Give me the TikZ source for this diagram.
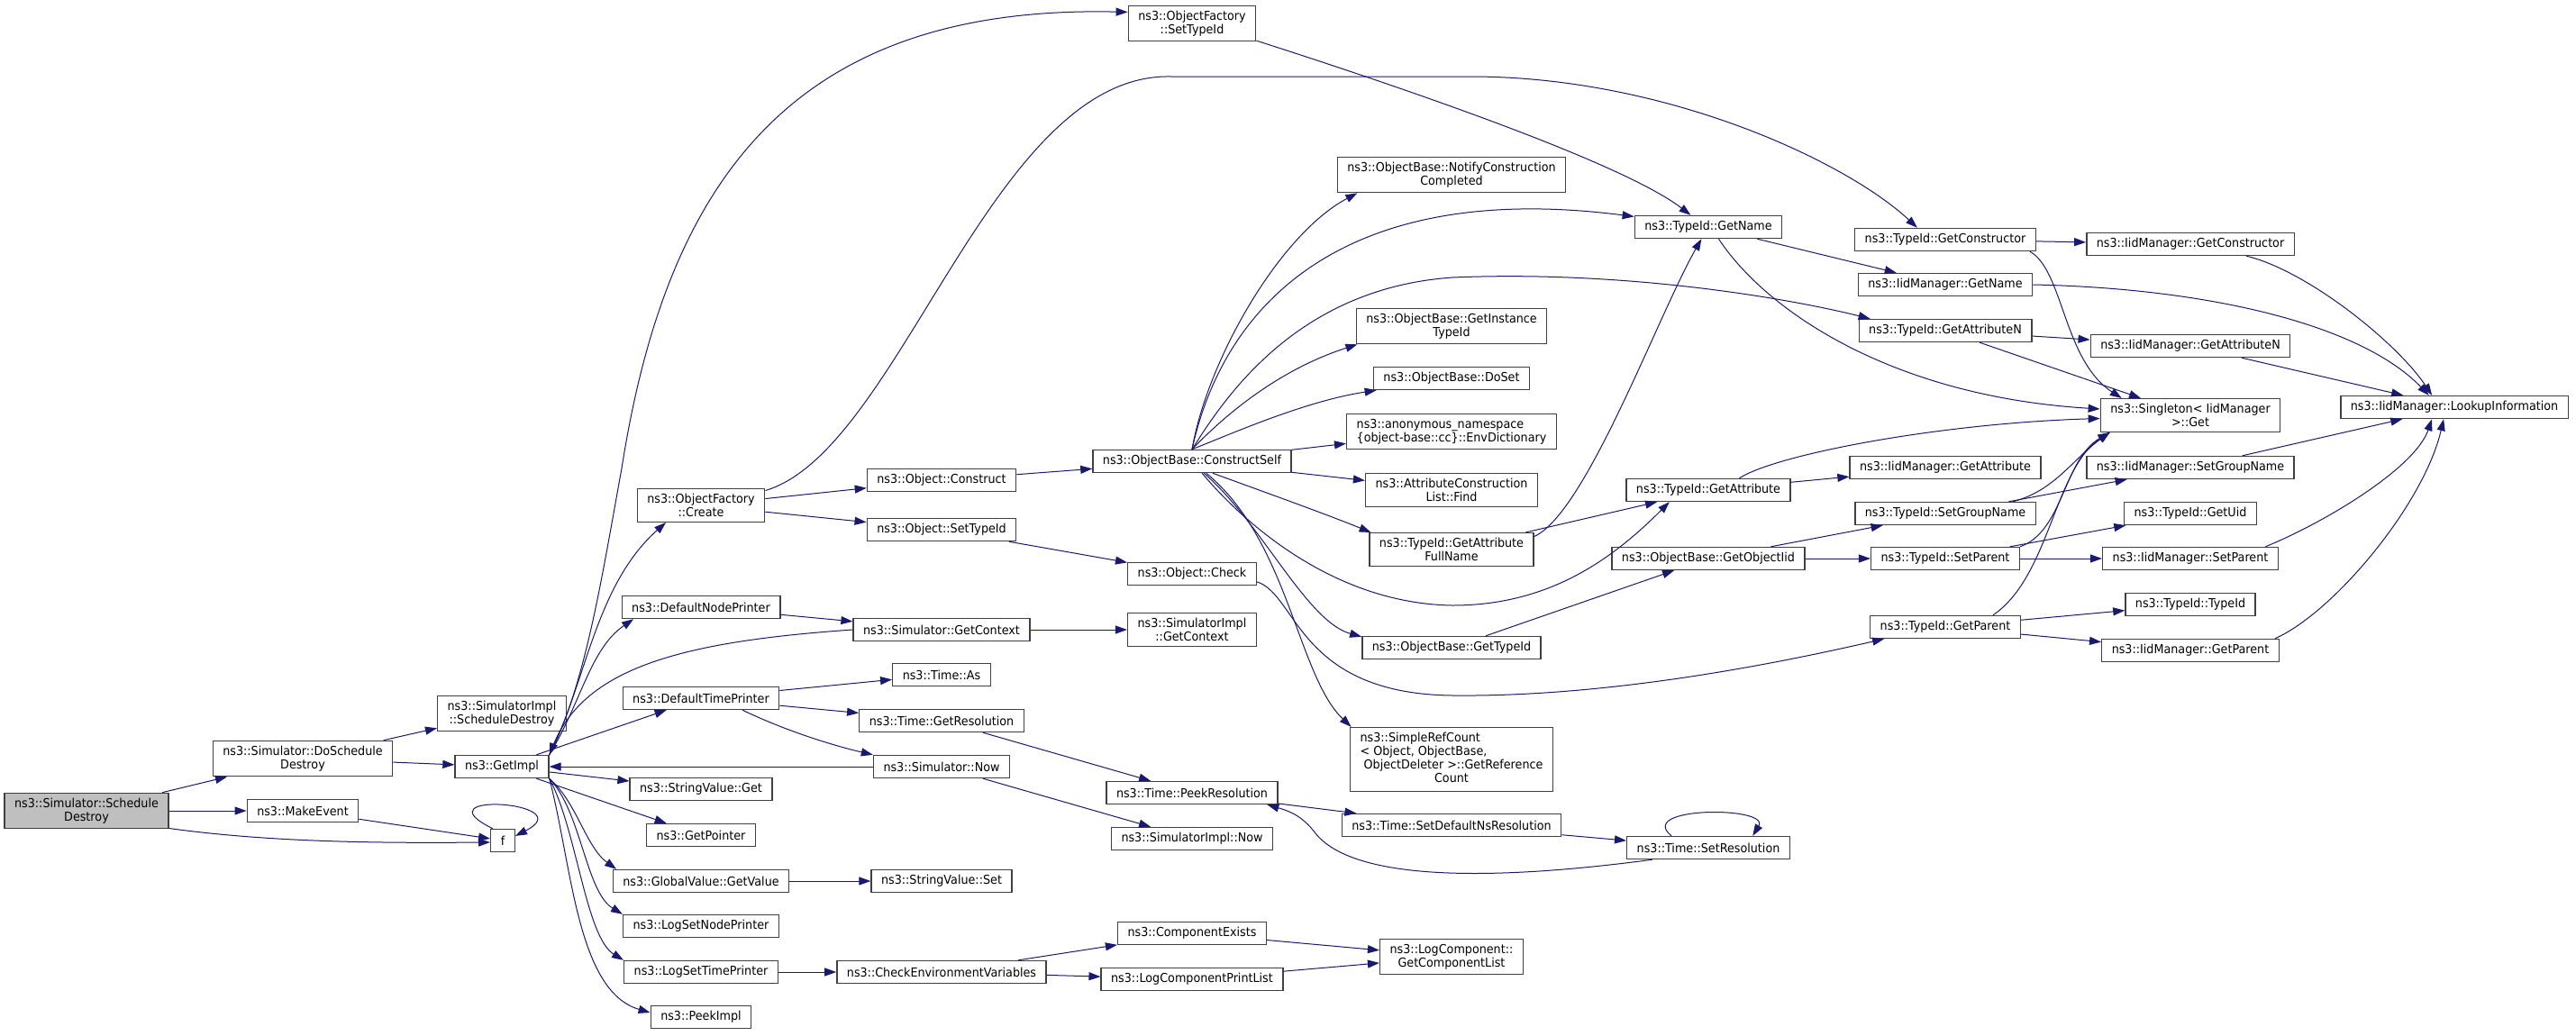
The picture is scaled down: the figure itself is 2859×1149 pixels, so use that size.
\documentclass[tikz,border=0pt]{standalone}
\usepackage{fontspec}
\setmainfont{DejaVu Sans}[FakeStretch=0.93]
\usetikzlibrary{arrows.meta}

\definecolor{edgeblue}{HTML}{191970}
\definecolor{boxline}{HTML}{404040}
\definecolor{rootfill}{HTML}{BFBFBF}

\tikzset{
	fn/.style={draw=boxline, fill=white, line width=1.4pt, inner xsep=11pt, inner ysep=5.5pt,
		minimum height=25pt, align=center, font=\fontsize{13.7}{15}\selectfont},
	call/.style={draw=edgeblue, line width=1pt, -{Triangle[length=13pt,width=9pt]}}
}

\begin{document}
\begin{tikzpicture}[x=1pt, y=-1pt]
	
	\fill[white] (0,0) rectangle (2859,1149);
	\useasboundingbox (0,0) rectangle (2859,1149);
	
	\node[fn, fill=rootfill] (root) at (96,900) {ns3::Simulator::Schedule\\Destroy};
	\node[fn] (dosched) at (336,842) {ns3::Simulator::DoSchedule\\Destroy};
	\node[fn] (makeevent) at (336,900) {ns3::MakeEvent};
	\node[fn] (simimplsd) at (557,792) {ns3::SimulatorImpl\\::ScheduleDestroy};
	\node[fn] (getimpl) at (557,851) {ns3::GetImpl};
	\node[fn] (f) at (558,933) {f};
	
	\node[fn] (ofcreate) at (778,561) {ns3::ObjectFactory\\::Create};
	\node[fn] (defnodeprinter) at (778,674) {ns3::DefaultNodePrinter};
	\node[fn] (deftimeprinter) at (778,775) {ns3::DefaultTimePrinter};
	\node[fn] (strget) at (778,876) {ns3::StringValue::Get};
	\node[fn] (getpointer) at (778,927) {ns3::GetPointer};
	\node[fn] (gvgetvalue) at (778,978) {ns3::GlobalValue::GetValue};
	\node[fn] (logsetnode) at (778,1028) {ns3::LogSetNodePrinter};
	\node[fn] (logsettime) at (778,1079) {ns3::LogSetTimePrinter};
	\node[fn] (peekimpl) at (778,1129) {ns3::PeekImpl};
	
	\node[fn] (objconstruct) at (1045,533) {ns3::Object::Construct};
	\node[fn] (objsettypeid) at (1045,588) {ns3::Object::SetTypeId};
	\node[fn] (simgetcontext) at (1045,699) {ns3::Simulator::GetContext};
	\node[fn] (timeas) at (1045,749) {ns3::Time::As};
	\node[fn] (timegetres) at (1045,800) {ns3::Time::GetResolution};
	\node[fn] (simnow) at (1045,851) {ns3::Simulator::Now};
	\node[fn] (strset) at (1045,978) {ns3::StringValue::Set};
	\node[fn] (checkenv) at (1045,1079) {ns3::CheckEnvironmentVariables};
	
	\node[fn] (ofsettypeid) at (1323,26) {ns3::ObjectFactory\\::SetTypeId};
	\node[fn] (constructself) at (1323,512) {ns3::ObjectBase::ConstructSelf};
	\node[fn] (objcheck) at (1323,637) {ns3::Object::Check};
	\node[fn] (simimplgetcontext) at (1323,699) {ns3::SimulatorImpl\\::GetContext};
	\node[fn] (peekres) at (1323,880) {ns3::Time::PeekResolution};
	\node[fn] (simimplnow) at (1323,931) {ns3::SimulatorImpl::Now};
	\node[fn] (compexists) at (1323,1036) {ns3::ComponentExists};
	\node[fn] (logprintlist) at (1323,1087) {ns3::LogComponentPrintList};
	
	\node[fn] (notifycc) at (1611,194) {ns3::ObjectBase::NotifyConstruction\\Completed};
	\node[fn] (getinsttid) at (1611,362) {ns3::ObjectBase::GetInstance\\TypeId};
	\node[fn] (doset) at (1611,420) {ns3::ObjectBase::DoSet};
	\node[fn, align=left] (envdict) at (1611,479) {ns3::anonymous\_namespace\\\{object-base::cc\}::EnvDictionary};
	\node[fn] (acfind) at (1611,544) {ns3::AttributeConstruction\\List::Find};
	\node[fn] (fullname) at (1611,610) {ns3::TypeId::GetAttribute\\FullName};
	\node[fn] (obgettid) at (1611,719) {ns3::ObjectBase::GetTypeId};
	\node[fn] (simpleref) at (1611,843) {\begin{tabular}{@{}l@{}}ns3::SimpleRefCount\\< Object, ObjectBase,\\\ ObjectDeleter >::GetReference\\\multicolumn{1}{@{}c@{}}{Count}\end{tabular}};
	\node[fn] (setdefns) at (1611,916) {ns3::Time::SetDefaultNsResolution};
	\node[fn] (getcomplist) at (1611,1062) {ns3::LogComponent::\\GetComponentList};
	
	\node[fn] (tidgetname) at (1896,252) {ns3::TypeId::GetName};
	\node[fn] (tidgetattr) at (1896,544) {ns3::TypeId::GetAttribute};
	\node[fn] (getobjiid) at (1896,620) {ns3::ObjectBase::GetObjectIid};
	\node[fn] (setres) at (1896,941) {ns3::Time::SetResolution};
	
	\node[fn] (tidgetctor) at (2159,266) {ns3::TypeId::GetConstructor};
	\node[fn] (iidgetname) at (2159,316) {ns3::IidManager::GetName};
	\node[fn] (tidgetattrn) at (2159,367) {ns3::TypeId::GetAttributeN};
	\node[fn] (iidgetattr) at (2159,519) {ns3::IidManager::GetAttribute};
	\node[fn] (tidsetgroup) at (2159,570) {ns3::TypeId::SetGroupName};
	\node[fn] (tidsetparent) at (2159,620) {ns3::TypeId::SetParent};
	\node[fn] (tidgetparent) at (2159,696) {ns3::TypeId::GetParent};
	
	\node[fn] (iidgetctor) at (2431,271) {ns3::IidManager::GetConstructor};
	\node[fn] (iidgetattrn) at (2431,384) {ns3::IidManager::GetAttributeN};
	\node[fn] (singleton) at (2431,461) {ns3::Singleton< IidManager\\>::Get};
	\node[fn] (iidsetgroup) at (2431,519) {ns3::IidManager::SetGroupName};
	\node[fn] (tidgetuid) at (2431,570) {ns3::TypeId::GetUid};
	\node[fn] (iidsetparent) at (2431,620) {ns3::IidManager::SetParent};
	\node[fn] (tidtypeid) at (2431,671) {ns3::TypeId::TypeId};
	\node[fn] (iidgetparent) at (2431,722) {ns3::IidManager::GetParent};
	
	\node[fn] (lookup) at (2724,452) {ns3::IidManager::LookupInformation};
	
	
	\draw[call] (root) -- (dosched);
	\draw[call] (root) -- (makeevent);
	\draw[call] (root.-12) .. controls (300,935) and (420,936) .. (f.-172);
	\draw[call] (makeevent) -- (f);
	\draw[call] (f.130) .. controls +(-85,-42) and +(75,-38) .. (f.20);
	\draw[call] (dosched) -- (simimplsd);
	\draw[call] (dosched) -- (getimpl);
	
	\draw[call] (getimpl.north east) .. controls (650,760) and (668,640) .. (690,520) .. controls (740,200) and (880,5) .. (ofsettypeid.170);
	\draw[call] (getimpl.north east) .. controls (650,760) and (660,650) .. (ofcreate.206);
	\draw[call] (getimpl.north east) .. controls (645,780) and (655,720) .. (defnodeprinter.190);
	\draw[call] (simgetcontext.west) .. controls (760,712) and (650,740) .. (getimpl.north east);
	\draw[call] (getimpl) -- (deftimeprinter);
	\draw[call] (getimpl) -- (strget);
	\draw[call] (getimpl) -- (getpointer);
	\draw[call] (simnow) -- (getimpl);
	\draw[call] (getimpl.south east) .. controls (640,890) and (650,940) .. (gvgetvalue.172);
	\draw[call] (getimpl.south east) .. controls (645,900) and (650,990) .. (logsetnode.north west);
	\draw[call] (getimpl.south east) .. controls (640,920) and (650,1040) .. (logsettime.north west);
	\draw[call] (getimpl.south east) .. controls (635,960) and (640,1100) .. (peekimpl.175);
	
	\draw[call] (ofcreate) -- (objconstruct);
	\draw[call] (ofcreate) -- (objsettypeid);
	\draw[call] (ofcreate.13) .. controls (1000,500) and (1100,80) .. (1300,85) -- (1632,85) .. controls (1850,85) and (2050,180) .. (tidgetctor.157);
	\draw[call] (defnodeprinter) -- (simgetcontext);
	\draw[call] (deftimeprinter) -- (timeas);
	\draw[call] (deftimeprinter) -- (timegetres);
	\draw[call] (deftimeprinter.-16) .. controls (880,815) and (935,830) .. (simnow.north west);
	\draw[call] (gvgetvalue) -- (strset);
	\draw[call] (logsettime) -- (checkenv);
	
	\draw[call] (objconstruct) -- (constructself);
	\draw[call] (objsettypeid) -- (objcheck);
	\draw[call] (simgetcontext) -- (simimplgetcontext);
	\draw[call] (timegetres) -- (peekres);
	\draw[call] (simnow) -- (simimplnow);
	\draw[call] (checkenv) -- (compexists);
	\draw[call] (checkenv) -- (logprintlist);
	
	\draw[call] (ofsettypeid.-15) .. controls (1550,95) and (1800,180) .. (tidgetname.146);
	\draw[call] (constructself.north) .. controls (1340,400) and (1420,260) .. (notifycc.191);
	\draw[call] (constructself.north) .. controls (1360,330) and (1500,200) .. (tidgetname.172);
	\draw[call] (constructself.north) .. controls (1360,440) and (1440,320) .. (1612,308) .. controls (1800,300) and (1980,330) .. (tidgetattrn.171);
	\draw[call] (constructself.north) .. controls (1360,460) and (1420,410) .. (getinsttid.191);
	\draw[call] (constructself.north) .. controls (1370,480) and (1450,445) .. (doset.189);
	\draw[call] (constructself) -- (envdict);
	\draw[call] (constructself) -- (acfind);
	\draw[call] (constructself.-30) .. controls (1400,545) and (1470,570) .. (fullname.168);
	\draw[call] (constructself.-50) .. controls (1380,580) and (1480,670) .. (1612,672) .. controls (1720,672) and (1790,620) .. (tidgetattr.197);
	\draw[call] (constructself.-45) .. controls (1400,580) and (1450,690) .. (obgettid.173);
	\draw[call] (constructself.-40) .. controls (1430,600) and (1440,750) .. (simpleref.162);
	\draw[call] (objcheck.-7) .. controls (1440,660) and (1440,770) .. (1612,772) .. controls (1800,774) and (2000,730) .. (tidgetparent.191);
	\draw[call] (peekres) -- (setdefns);
	\draw[call] (compexists) -- (getcomplist);
	\draw[call] (logprintlist) -- (getcomplist);
	
	\draw[call] (fullname) -- (tidgetattr);
	\draw[call] (fullname.9) .. controls (1760,570) and (1840,350) .. (tidgetname.240);
	\draw[call] (obgettid) -- (getobjiid);
	\draw[call] (setdefns) -- (setres);
	\draw[call] (setres.north west) ++(50,0) .. controls +(-40,-33) and +(20,-33) .. (setres.15);
	\draw[call] (setres.192) .. controls (1640,980) and (1500,975) .. (1460,925) .. controls (1445,905) and (1430,900) .. (peekres.-9);
	
	\draw[call] (tidgetname) -- (iidgetname);
	\draw[call] (tidgetname.-49) .. controls (1960,345) and (2100,440) .. (singleton.176);
	\draw[call] (tidgetattr) -- (iidgetattr);
	\draw[call] (tidgetattr.21) .. controls (1970,505) and (2150,470) .. (singleton.182);
	\draw[call] (getobjiid) -- (tidsetgroup);
	\draw[call] (getobjiid) -- (tidsetparent);
	
	\draw[call] (tidgetctor) -- (iidgetctor);
	\draw[call] (tidgetctor.-8) .. controls (2290,300) and (2290,400) .. (singleton.166);
	\draw[call] (tidgetattrn) -- (iidgetattrn);
	\draw[call] (tidgetattrn) -- (singleton);
	\draw[call] (tidsetgroup) -- (iidsetgroup);
	\draw[call] (tidsetgroup.10) .. controls (2280,545) and (2300,510) .. (singleton.192);
	\draw[call] (tidsetparent) -- (tidgetuid);
	\draw[call] (tidsetparent) -- (iidsetparent);
	\draw[call] (tidsetparent.north east) .. controls (2290,590) and (2290,510) .. (singleton.192);
	\draw[call] (tidgetparent) -- (tidtypeid);
	\draw[call] (tidgetparent) -- (iidgetparent);
	\draw[call] (tidgetparent.14) .. controls (2275,640) and (2280,520) .. (singleton.192);
	
	\draw[call] (iidgetctor.-12) .. controls (2560,300) and (2660,380) .. (lookup.152);
	\draw[call] (iidgetname.east) .. controls (2450,320) and (2620,360) .. (lookup.155);
	\draw[call] (iidgetattrn) -- (lookup);
	\draw[call] (iidsetgroup) -- (lookup);
	\draw[call] (iidsetparent.9) .. controls (2580,580) and (2680,520) .. (lookup.208);
	\draw[call] (iidgetparent.8) .. controls (2590,680) and (2690,560) .. (lookup.228);
	
\end{tikzpicture}
\end{document}
